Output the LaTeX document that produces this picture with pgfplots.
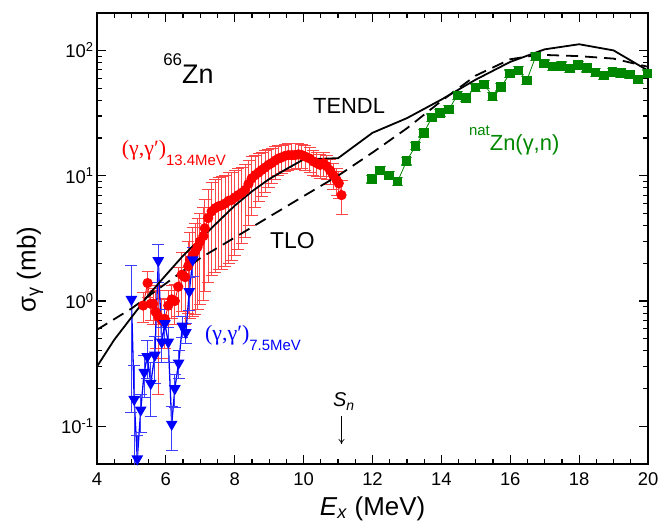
\documentclass[border=0pt]{standalone}
\usepackage{pgfplots}
\usepackage{pgfplotstable}
\pgfplotsset{compat=1.18}
\usetikzlibrary{arrows.meta}
\usepackage{fontspec}
\setmainfont{Liberation Sans}
\newfontfamily\grserif{Liberation Serif}

\definecolor{rdata}{RGB}{255,0,0}
\definecolor{rbar}{RGB}{255,70,70}
\definecolor{bdata}{RGB}{0,0,255}
\definecolor{bbar}{RGB}{60,60,255}
\definecolor{gdata}{RGB}{0,135,0}
\definecolor{gbar}{RGB}{80,175,80}

% (gamma,gamma') with 13.4 MeV bremsstrahlung
\pgfplotstableread{
x y e
5.34 0.92 0.25
5.47 1.39 0.32
5.56 0.95 0.25
5.63 0.95 0.30
5.70 0.82 0.40
5.78 0.75 0.57
5.88 0.70 0.35
5.97 0.72 0.30
6.07 0.92 0.30
6.17 1.03 0.30
6.26 1.00 0.35
6.36 1.30 0.55
6.46 1.62 0.80
6.56 1.55 0.90
6.65 1.90 1.10
6.70 2.13 1.40
6.78 2.30 1.55
6.85 2.48 1.70
6.92 2.70 1.85
6.99 2.98 2.05
7.09 3.30 2.30
7.13 3.80 2.60
7.23 4.60 3.20
7.33 5.20 3.60
7.43 5.50 3.80
7.53 5.70 3.90
7.62 5.80 4.00
7.72 6.00 4.10
7.82 6.30 4.30
7.91 6.40 4.30
8.00 6.70 4.40
8.10 7.00 4.40
8.20 7.30 4.40
8.30 7.70 4.50
8.40 8.60 4.60
8.49 9.50 4.70
8.59 10.1 4.50
8.69 10.6 4.40
8.78 11.1 4.30
8.88 11.6 4.20
8.98 12.2 4.10
9.07 12.6 4.00
9.17 13.2 3.80
9.27 13.7 3.60
9.36 14.0 3.50
9.46 14.4 3.50
9.56 14.6 3.50
9.66 14.6 3.40
9.75 14.6 3.40
9.85 14.8 3.30
9.95 14.6 3.20
10.05 14.2 3.10
10.18 13.7 3.00
10.28 13.0 2.90
10.38 12.6 2.80
10.48 12.2 2.70
10.58 12.6 2.70
10.67 11.9 2.60
10.77 11.0 2.50
10.86 10.1 2.40
10.96 9.2 2.20
11.02 8.7 2.10
11.10 7.0 2.10
}\redtab

% (gamma,gamma') with 7.5 MeV bremsstrahlung
\pgfplotstableread{
x y e
5.00 1.03 0.90
5.08 0.164 0.14
5.17 0.055 0.03
5.27 0.135 0.045
5.37 0.27 0.10
5.46 0.36 0.12
5.56 0.22 0.10
5.68 0.37 0.15
5.78 2.10 0.70
5.88 0.47 0.15
5.97 0.66 0.20
6.07 0.47 0.15
6.17 0.104 0.04
6.26 0.20 0.06
6.37 0.32 0.08
6.48 0.63 0.12
6.58 0.56 0.10
6.68 1.19 0.35
6.78 2.13 0.55
}\bluetab

% natZn(gamma,n)
\pgfplotstableread{
x y e
11.98 9.4 0.66
12.22 11.0 0.77
12.48 10.1 0.71
12.73 9.0 0.63
12.99 13.1 0.92
13.25 17.3 1.2
13.49 21.9 1.5
13.72 29.1 2.0
13.96 31.7 2.2
14.22 33.7 2.4
14.46 43.9 3.1
14.71 41.8 2.9
14.98 50.5 3.5
15.24 53.7 3.8
15.49 43.0 3.0
15.73 51.1 3.6
15.99 65.2 4.6
16.23 69.3 4.9
16.48 57.7 4.0
16.74 89.6 6.3
16.98 78.4 5.5
17.23 74.6 5.2
17.49 75.5 5.3
17.73 71.5 5.0
17.97 76.5 5.4
18.22 72.3 5.1
18.48 66.5 4.7
18.72 63.3 4.4
18.97 67.2 4.7
19.21 66.0 4.6
19.47 64.0 4.5
19.71 58.4 4.1
19.99 65.2 4.6
}\greentab

% TENDL evaluation
\pgfplotstableread{
x y
4.0 0.30
4.5 0.49
5.0 0.74
5.5 1.12
6.0 1.61
6.5 2.30
7.0 3.13
7.5 4.25
8.0 5.77
8.5 7.50
9.0 9.40
9.5 11.3
10.0 13.5
11.0 13.8
12.0 22.0
13.0 28.8
14.0 40.5
15.0 58.5
16.0 81.0
17.0 102
18.0 112
19.0 100
20.0 69.0
}\tendl

% TLO strength function
\pgfplotstableread{
x y
4.0 0.59
5.0 0.87
6.0 1.38
7.0 2.20
8.0 3.21
9.0 4.70
10.0 6.87
11.0 10.0
12.0 15.3
13.0 23.9
14.0 39.5
15.0 63.0
16.0 85.0
16.8 92.0
17.0 92.0
18.0 90.0
19.0 86.0
20.0 74.0
}\tlo

\begin{document}
\begin{tikzpicture}
\begin{axis}[
  name=ax,
  scale only axis,
  width=551bp, height=451.3bp,
  xmin=4, xmax=20,
  ymode=log, ymin=0.05, ymax=200,
  axis line style={line width=1.7bp},
  tick style={line width=1.2bp, black},
  major tick length=9bp, minor tick length=5bp,
  tick align=inside,
  xtick={4,6,8,10,12,14,16,18,20},
  xticklabels={4,6,8,10,12,14,16,18,20},
  minor x tick num=3,
  ytick={0.1,1,10,100},
  yticklabels={10\textsuperscript{-1},10\textsuperscript{0},10\textsuperscript{1},10\textsuperscript{2}},
  ticklabel style={font=\fontsize{18.5}{20}\selectfont},
  xticklabel style={yshift=-5bp},
  xlabel={\textit{E}\textsubscript{\textit{x}} (MeV)},
  ylabel={σ\textsubscript{γ} (mb)},
  label style={font=\fontsize{26}{28}\selectfont},
  xlabel style={at={(axis description cs:0.5,0)}, anchor=base, yshift=-51bp},
  ylabel style={at={(axis description cs:-0.1216,0.43)}, anchor=center},
  clip=true,
]

% measured data
\addplot[rdata, line width=0.8bp, mark=*, mark size=4.7bp,
  mark options={solid, fill=rdata, draw=rdata},
  error bars/.cd, y dir=both, y explicit, error mark=|,
  error bar style={rbar, line width=1bp},
  error mark options={rbar, line width=1bp, mark size=6bp}]
  table[x=x, y=y, y error=e] {\redtab};

\addplot[bdata, line width=1.3bp, mark=triangle*, mark size=5.5bp,
  mark options={solid, rotate=180, fill=bdata, draw=bdata},
  error bars/.cd, y dir=both, y explicit, error mark=|,
  error bar style={bbar, line width=1bp},
  error mark options={bbar, line width=1bp, mark size=6bp}]
  table[x=x, y=y, y error=e] {\bluetab};

\addplot[gdata, line width=0.8bp, mark=square*, mark size=4.2bp,
  mark options={solid, fill=gdata, draw=gdata},
  error bars/.cd, y dir=both, y explicit, error mark=|,
  error bar style={gbar, line width=1bp},
  error mark options={gbar, line width=1.2bp, mark size=5.5bp}]
  table[x=x, y=y, y error=e] {\greentab};

% model curves
\addplot[black, line width=1.8bp, no marks] table[x=x, y=y] {\tendl};
\addplot[black, line width=1.8bp, no marks, dash pattern=on 12bp off 7bp] table[x=x, y=y] {\tlo};

% annotations
\node[anchor=base west, inner sep=0, font=\fontsize{27}{27}\selectfont]
  at (axis cs:5.92,54.6) {\raisebox{18bp}{\fontsize{17}{17}\selectfont 66}Zn};
\node[anchor=base west, inner sep=0, font=\fontsize{22}{22}\selectfont]
  at (axis cs:10.27,31.6) {TENDL};
\node[anchor=base west, inner sep=0, font=\fontsize{23}{23}\selectfont]
  at (axis cs:9.02,2.645) {TLO};
\node[anchor=base west, inner sep=0, text=rdata]
  at (axis cs:4.717,14.6) {{\grserif\fontsize{22}{22}\selectfont (γ,γ′)}\raisebox{-10bp}{\fontsize{15}{15}\selectfont 13.4MeV}};
\node[anchor=base west, inner sep=0, text=bdata]
  at (axis cs:7.136,0.484) {{\grserif\fontsize{22}{22}\selectfont (γ,γ′)}\raisebox{-10bp}{\fontsize{15}{15}\selectfont 7.5MeV}};
\node[anchor=base west, inner sep=0, text=gdata, font=\fontsize{22}{22}\selectfont]
  at (axis cs:14.80,16.0) {\raisebox{15bp}{\fontsize{15}{15}\selectfont nat}Zn(γ,n)};
\node[anchor=base west, inner sep=0, font=\fontsize{20}{20}\selectfont]
  at (axis cs:10.85,0.1445) {\textit{S}\raisebox{-4bp}{\fontsize{14}{14}\selectfont\itshape n}};
\draw[-{To[length=5bp,width=6bp]}, line width=0.7bp]
  (axis cs:11.1,0.120) -- (axis cs:11.1,0.0721);
\end{axis}
\pgfresetboundingbox
\path ([shift={(-97bp,-58bp)}]ax.south west) rectangle ([shift={(11bp,12.7bp)}]ax.north east);
\end{tikzpicture}
\end{document}
